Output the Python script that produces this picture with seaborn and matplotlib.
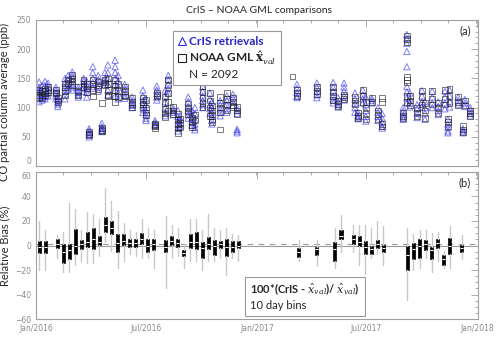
import numpy as np
import pandas as pd
import matplotlib
matplotlib.use('Agg')
import matplotlib.pyplot as plt
import matplotlib.dates as mdates
from matplotlib.ticker import MultipleLocator, AutoMinorLocator
from matplotlib.lines import Line2D
import seaborn as sns

sns.set_style('white')
plt.rcParams['font.family'] = ['Lato', 'DejaVu Sans']
plt.rcParams['mathtext.fontset'] = 'dejavuserif'

start = pd.Timestamp('2016-01-01')

# --- panel (a): dias desde 1/ene/2016 y CO (ppb) por sobrepasada ---
obs_day = [5, 10, 15, 20, 33, 36, 48, 53, 60, 70, 79, 84, 88, 94, 103, 109, 114,
           119, 131, 136, 147, 159, 177, 182, 197, 200, 214, 219, 227, 235, 238,
           252, 258, 263, 276, 288, 291, 305, 316, 326, 333,
           425, 432, 465, 492, 500, 510, 528, 533, 541, 546, 556, 566, 573,
           608, 614, 619, 631, 639, 644, 656, 666, 677, 682, 685, 699, 707, 710, 719]

cris_ppb = [
    [144, 135, 128, 122, 116, 110, 125, 131], [138, 130, 124, 118, 113],
    [145, 138, 130, 124, 119, 115], [142, 136, 130, 125, 120],
    [135, 130, 125, 120, 115], [119, 114, 110, 106, 102],
    [150, 142, 135, 128, 122, 115], [155, 148, 140, 132],
    [161, 155, 150, 145, 139, 135, 130], [135, 130, 126, 122, 118],
    [150, 145, 140, 135, 128], [145, 138, 132, 126, 118],
    [64, 60, 57, 54, 50], [170, 160, 150, 143, 136, 133],
    [155, 148, 142, 135, 128], [73, 67, 64, 61, 59],
    [160, 150, 145, 140], [173, 160, 150, 140, 130, 122],
    [181, 170, 160, 150, 140, 130, 120], [155, 145, 135, 125, 115],
    [140, 133, 127, 121, 116], [118, 112, 108, 104, 100],
    [130, 120, 112, 105, 98, 92], [115, 105, 95, 88, 82, 78],
    [78, 74, 71, 69], [137, 130, 124, 118, 113],
    [130, 120, 110, 100, 92, 86], [155, 148, 140, 133, 125],
    [100, 96, 92, 88], [95, 85, 78, 72, 66, 60],
    [84, 78, 72, 68], [118, 110, 102, 95, 88, 82],
    [95, 88, 82, 76, 70], [100, 90, 80, 72, 66, 62],
    [136, 128, 120, 112, 105, 100], [125, 115, 105, 98, 90],
    [110, 100, 92, 85, 78, 72], [112, 105, 98, 92, 86],
    [120, 112, 105, 98, 92], [123, 117, 110, 104],
    [100, 95, 90, 63, 60, 57],
    [], [140, 133, 126, 120, 117], [142, 135, 128, 122, 117],
    [143, 135, 128, 120, 113, 108], [117, 110, 105, 101],
    [142, 135, 128, 120, 113], [125, 115, 107, 100, 92],
    [92, 87, 84, 81], [130, 122, 115, 108],
    [118, 105, 95, 85, 77], [116, 112, 108],
    [100, 92, 85, 78], [90, 82, 75, 68, 65],
    [100, 94, 88, 84, 80], [225, 218, 210, 196, 170, 136, 127, 117, 108],
    [125, 115, 108, 101], [105, 98, 90, 83],
    [129, 120, 110, 101], [110, 100, 90, 80],
    [128, 118, 108, 100], [110, 102, 95, 88],
    [128, 118, 108, 98], [80, 72, 66, 60, 57],
    [130, 120, 110, 101], [118, 112, 106],
    [64, 60, 57], [114, 108, 102], [100, 95, 90, 86]]

noaa_ppb = [
    [130, 126, 122, 118], [128, 122, 116], [133, 128, 124, 121], [135, 130, 126],
    [130, 126, 124], [116, 112, 110], [141, 135, 128, 121], [148, 142],
    [156, 150, 145, 139], [136, 128, 121], [147, 141, 135], [140, 133, 127],
    [58, 55, 53], [147, 140, 130, 119], [145, 138, 132], [65, 62, 60, 108],
    [148, 143, 138], [150, 140, 130, 122, 119], [147, 138, 130, 120, 110],
    [140, 128, 118], [136, 128, 122, 119], [116, 110, 105, 100],
    [116, 110, 105, 100], [113, 100, 92, 87], [72, 70, 68, 65], [125, 122, 119],
    [119, 108, 98, 90, 84], [148, 138, 125, 110, 95], [101, 95, 89],
    [89, 80, 72, 64, 57], [81, 74, 66], [107, 100, 94, 89], [83, 76, 70, 66],
    [88, 78], [136, 127, 116, 108, 101], [125, 112, 100, 86],
    [104, 95, 88, 80, 75], [118, 108, 100, 92, 63], [125, 115, 105, 95],
    [116, 110, 104, 101], [101, 95, 89],
    [153], [130, 125, 120], [135, 128, 123], [135, 127, 120, 113],
    [112, 106, 102], [122, 118, 115], [118, 112, 105], [92, 86, 82],
    [130, 120, 110], [110, 100, 90, 80], [116, 110], [95, 88, 80],
    [116, 110, 72, 68], [92, 86, 82],
    [223, 217, 211, 152, 147, 143, 120, 110], [120, 112, 104], [99, 92, 85],
    [129, 118, 105], [108, 95, 82], [128, 115, 105], [108, 100, 90],
    [130, 115, 105], [81, 75, 68], [132, 120, 108], [118, 110, 104],
    [69, 63, 58], [112, 104], [95, 90, 85]]

# --- panel (b): sesgo relativo (%) en bins de 10 dias ---
bin_day = [5, 15, 35, 45, 55, 65, 75, 85, 95, 105, 115, 125, 135, 145, 155, 165,
           175, 185, 195, 215, 225, 235, 245, 255, 265, 275, 285, 295, 305, 315,
           325, 335, 435, 465, 495, 505, 525, 535, 545, 555, 565, 575, 615, 625,
           635, 645, 655, 665, 675, 685, 705]
bias_q1 = [-6.3, -6.3, -2.0, -14.3, -10.6, -7.1, -3.1, -1.4, -2.9, 0.6, 11.4, 9.4,
           -5.7, 0.6, -0.9, -1.4, 0.9, -5.7, -3.7, -5.1, 0.6, -0.9, -8.6, -2.0,
           -2.9, -10.0, -2.9, -7.7, -2.0, -8.6, -5.7, -2.0, -9.1, -7.7, -12.3, 4.9,
           1.4, -0.3, -7.1, -6.6, -2.0, -4.9, -20.0, -11.4, -10.0, -3.7, -10.9,
           -2.0, -15.7, -6.6, -4.9]
bias_med = [-1.5, -1.0, 1.5, -5.0, -4.0, 0.0, 1.0, 3.0, 5.0, 3.0, 17.0, 14.0,
            2.0, 4.0, 2.0, 2.0, 5.0, 0.0, 1.0, -1.0, 4.0, 2.0, -6.0, 3.0,
            3.0, -2.0, 1.0, 0.0, 1.0, -1.0, -1.0, 0.0, -5.0, -3.0, -3.0, 8.0,
            5.0, 3.0, -1.0, -3.0, 1.0, -2.0, -8.0, -3.0, 0.0, 1.0, -4.0,
            2.0, -11.0, 0.0, -2.0]
bias_q3 = [3.4, 3.4, 5.1, 1.4, 0.9, 13.7, 4.3, 11.4, 14.3, 7.7, 22.9, 20.0,
           9.4, 9.1, 4.9, 5.7, 10.0, 5.7, 4.9, 4.3, 7.7, 5.7, -3.7, 9.4,
           10.9, 2.9, 6.6, 4.3, 3.4, 4.9, 3.7, 3.4, -2.0, -0.9, 2.9, 12.3,
           8.6, 7.7, 3.4, 0.0, 4.3, 0.6, 0.0, 2.0, 5.7, 4.3, -0.9,
           4.9, -8.0, 6.3, 0.3]
bias_lo = [-20.0, -20.0, -10.0, -21.4, -21.4, -15.7, -12.9, -14.3, -14.3, -8.6,
           2.9, -4.3, -18.0, -12.3, -7.1, -8.6, -10.0, -10.0, -18.0, -35.0,
           -10.0, -8.6, -18.6, -12.9, -12.9, -20.0, -12.9, -12.9, -10.0, -24.3,
           -10.0, -12.3, -12.9, -17.1, -18.6, -5.7, -5.7, -15.7, -22.9, -10.0,
           -7.1, -15.7, -44.3, -20.0, -18.0, -10.0, -21.4, -12.9, -18.6, -18.6,
           -11.4]
bias_hi = [20.0, 12.9, 8.6, 11.4, 34.9, 30.0, 12.9, 27.0, 25.7, 22.0, 46.6, 36.3,
           28.0, 18.6, 12.9, 11.4, 21.4, 14.3, 12.9, 24.3, 17.1, 14.3, 1.4, 22.0,
           21.4, 12.9, 25.7, 14.3, 12.9, 14.3, 9.4, 8.6, 4.3, 4.3, 14.3, 24.9,
           17.1, 17.1, 17.1, 14.3, 20.0, 16.3, 14.3, 9.4, 12.9, 12.9, 10.0,
           11.4, -4.3, 15.7, 8.6]
mean_bias = 1.0
n_obs = 2092

# tabla larga para seaborn
rows = []
for d, cv, nv in zip(obs_day, cris_ppb, noaa_ppb):
    fecha = start + pd.Timedelta(days=d)
    rows += [(fecha, v, 'CrIS') for v in cv]
    rows += [(fecha, v, 'NOAA') for v in nv]
df = pd.DataFrame(rows, columns=['fecha', 'co', 'fuente'])

blue = '#2b2bf0'
gray_ax = '#a0a0a0'

fig = plt.figure(figsize=(5, 3.37), dpi=100)
ax_a = fig.add_axes([0.072, 0.507, 0.883, 0.434])
ax_b = fig.add_axes([0.072, 0.053, 0.883, 0.437], sharex=ax_a)

# --- panel (a) ---
sns.scatterplot(data=df[df.fuente == 'CrIS'], x='fecha', y='co', marker='^',
                s=20, color=blue, alpha=0.6, linewidth=0.7, ax=ax_a, legend=False)
pts = ax_a.collections[-1]
pts.set_facecolor('none')
pts.set_edgecolor(blue)
sns.scatterplot(data=df[df.fuente == 'NOAA'], x='fecha', y='co', marker='s',
                s=16, color='#222222', alpha=0.6, linewidth=0.7, ax=ax_a, legend=False)
pts = ax_a.collections[-1]
pts.set_facecolor('none')
pts.set_edgecolor('#222222')

ax_a.set_ylim(0, 250)
ax_a.yaxis.set_major_locator(MultipleLocator(50))
ax_a.yaxis.set_minor_locator(MultipleLocator(10))
ax_a.set_xlabel('')
ax_a.set_ylabel('CO partial column average (ppb)', fontsize=8)
ax_a.yaxis.set_label_coords(-0.058, 0.44)
ax_a.text(0.985, 0.925, '(a)', transform=ax_a.transAxes, ha='right', va='center', fontsize=8)

handles = [Line2D([], [], ls='none', marker='^', mfc='none', mec=blue, ms=5.5, mew=0.8),
           Line2D([], [], ls='none', marker='s', mfc='none', mec='#222222', ms=5.5, mew=0.8),
           Line2D([], [], ls='none')]
labels = ['CrIS retrievals', r'NOAA GML $\hat{\mathbf{x}}_{val}$', f'N = {n_obs}']
leg = ax_a.legend(handles, labels, loc='upper left', bbox_to_anchor=(0.31, 0.925),
                  prop={'weight': 'bold', 'size': 8.5}, frameon=True,
                  fancybox=False, edgecolor='#999999', framealpha=1,
                  handlelength=0.6, handletextpad=0.3, labelspacing=0.2,
                  borderpad=0.45, borderaxespad=0)
leg.get_frame().set_linewidth(0.8)
leg.get_texts()[0].set_color('#2525c8')
leg.get_texts()[2].set_fontweight('normal')

# --- panel (b) ---
stats = [dict(q1=a, med=m, q3=c, whislo=lo, whishi=hi, fliers=[])
         for a, m, c, lo, hi in zip(bias_q1, bias_med, bias_q3, bias_lo, bias_hi)]
pos = mdates.date2num(start + pd.to_timedelta(bin_day, unit='D'))
ax_b.axhline(0, color='#9a9a9a', lw=0.8, zorder=0)
ax_b.axhline(mean_bias, color='#9a9a9a', lw=0.8, ls=(0, (5, 5)), zorder=0)
ax_b.bxp(stats, positions=pos, widths=5, patch_artist=True, showcaps=False,
         showfliers=False, manage_ticks=False,
         boxprops=dict(facecolor='black', edgecolor='black', lw=0.5),
         whiskerprops=dict(color='#c8c8c8', lw=1.0),
         medianprops=dict(color='white', lw=0.8))
ax_b.set_ylim(-60, 60)
ax_b.yaxis.set_major_locator(MultipleLocator(20))
ax_b.yaxis.set_minor_locator(MultipleLocator(5))
ax_b.set_ylabel('Relative Bias (%)', fontsize=8)
ax_b.yaxis.set_label_coords(-0.058, 0.5)
ax_b.text(0.985, 0.923, '(b)', transform=ax_b.transAxes, ha='right', va='center', fontsize=8)

h2 = [Line2D([], [], ls='none'), Line2D([], [], ls='none')]
l2 = [r'100*(CrIS - $\hat{x}_{val}$)/ $\hat{x}_{val}$)', '10 day bins']
leg2 = ax_b.legend(h2, l2, loc='upper left', bbox_to_anchor=(0.473, 0.289),
                   prop={'size': 8}, frameon=True, fancybox=False,
                   edgecolor='#999999', framealpha=1, handlelength=0,
                   handletextpad=0, labelspacing=0.25, borderpad=0.45, borderaxespad=0)
leg2.get_frame().set_linewidth(0.8)
leg2.get_texts()[0].set_fontweight('bold')

# --- ejes comunes ---
ax_b.set_xlim(pd.Timestamp('2016-01-01'), pd.Timestamp('2018-01-01'))
ax_b.xaxis.set_major_locator(mdates.MonthLocator(bymonth=[1, 7]))
ax_b.xaxis.set_minor_locator(AutoMinorLocator(4))
ax_b.xaxis.set_major_formatter(mdates.DateFormatter('%b/%Y'))
for ax in (ax_a, ax_b):
    ax.tick_params(which='both', direction='in', top=True, right=True,
                   color=gray_ax, labelcolor='#8a8a8a', labelsize=5.5, width=0.6)
    ax.tick_params(which='major', length=5)
    ax.tick_params(which='minor', length=2.5)
    for sp in ax.spines.values():
        sp.set_color(gray_ax)
        sp.set_linewidth(0.8)
ax_a.tick_params(labelbottom=False)
ax_b.set_xlabel('')

fig.text(0.518, 0.968, 'CrIS \u2013 NOAA GML comparisons', ha='center', va='center', fontsize=7.5)

# dibujar una vez para que existan las etiquetas y luego separar "0" (arriba) de "60" (abajo)
fig.canvas.draw()
for ax in (ax_a, ax_b):
    for lab in ax.get_xticklabels() + ax.get_yticklabels():
        lab.set_family('DejaVu Sans')
for t in ax_a.yaxis.get_major_ticks():
    if t.get_loc() == 0:
        t.label1.set_va('bottom')
for t in ax_b.yaxis.get_major_ticks():
    if t.get_loc() == 60:
        t.label1.set_va('top')

fig.savefig('out.png', dpi=100)
